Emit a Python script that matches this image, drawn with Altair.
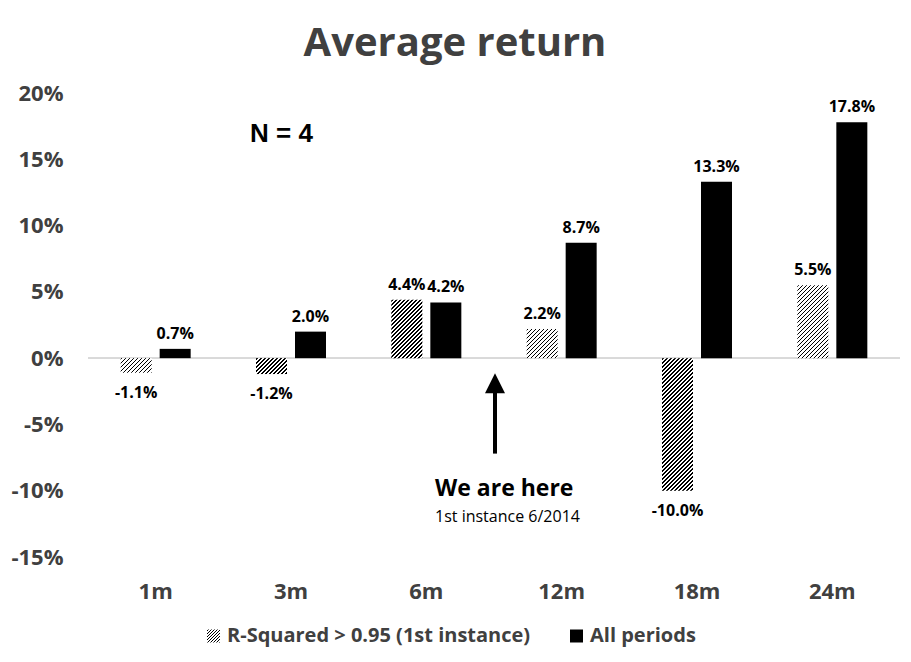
import altair as alt
import pandas as pd

# ---- data ----
periods = ["1m", "3m", "6m", "12m", "18m", "24m"]
rsq_values = [-1.1, -1.2, 4.4, 2.2, -10.0, 5.5]
all_values = [0.7, 2.0, 4.2, 8.7, 13.3, 17.8]
series = ["R-Squared > 0.95 (1st instance)", "All periods"]
y_ticks = [-15, -10, -5, 0, 5, 10, 15, 20]

# ---- layout constants ----
Y_MIN, Y_MAX = -15, 20
PLOT_W, PLOT_H = 812, 464
GROUP_W, BAR_W, GAP = 70, 31, 8
STEP = PLOT_W / len(periods)
PAD_INNER = 1 - GROUP_W / STEP
OFF_PAD = GAP / (BAR_W + GAP)
PX_PER_UNIT = PLOT_H / (Y_MAX - Y_MIN)
TXT = "#404040"
FONT = "Open Sans"

rows = []
for p, a, b in zip(periods, rsq_values, all_values):
    rows.append({"period": p, "series": series[0], "value": a, "label": f"{a:.1f}%"})
    rows.append({"period": p, "series": series[1], "value": b, "label": f"{b:.1f}%"})
df = pd.DataFrame(rows)


def hatch(w, h, period=4.0, dark=1.4):
    """Diagonal '/' hatch as a linear gradient in the bar's bounding box."""
    L = w + h
    a = L / (w * w + h * h)
    stops = []
    pos = 0.5
    while pos < L:
        s = pos / L
        e = min((pos + dark) / L, 1.0)
        stops += [{"offset": s, "color": "white"}, {"offset": s, "color": "black"},
                  {"offset": e, "color": "black"}, {"offset": e, "color": "white"}]
        pos += period
    return {"gradient": "linear", "x1": 0, "y1": 0, "x2": a * w, "y2": a * h,
            "stops": stops}


x_enc = alt.X("period:N", sort=periods,
              scale=alt.Scale(domain=periods, paddingInner=PAD_INNER, paddingOuter=PAD_INNER / 2),
              axis=alt.Axis(title=None, domain=False, ticks=False, labelAngle=0, labelPadding=24,
                            labelFont=FONT, labelFontSize=22, labelFontWeight="bold",
                            labelColor=TXT))
xo_enc = alt.XOffset("series:N", sort=series,
                     scale=alt.Scale(domain=series, paddingInner=OFF_PAD, paddingOuter=0))
y_enc = alt.Y("value:Q", scale=alt.Scale(domain=[Y_MIN, Y_MAX], nice=False),
              axis=alt.Axis(title=None, values=y_ticks, labelExpr="datum.value + '%'",
                            grid=False, domain=False, ticks=False, labelPadding=25,
                            labelFont=FONT, labelFontSize=22, labelFontWeight="bold",
                            labelColor=TXT))

base = alt.Chart(df)

zero_rule = base.mark_rule(color="#d9d9d9", strokeWidth=1.5).encode(y=alt.datum(0))

solid = base.transform_filter(alt.datum.series == series[1]).mark_bar(
    fill="black").encode(x=x_enc, xOffset=xo_enc, y=y_enc)

hatched_layers = []
for p, v in zip(periods, rsq_values):
    h = abs(v) * PX_PER_UNIT
    hatched_layers.append(
        base.transform_filter((alt.datum.series == series[0]) & (alt.datum.period == p))
        .mark_bar(fill=hatch(BAR_W, h)).encode(x=x_enc, xOffset=xo_enc, y=y_enc)
    )

lbl_style = dict(font=FONT, fontSize=16, fontWeight="bold", color="black", baseline="middle")
pos_labels = base.transform_filter(alt.datum.value >= 0).mark_text(dy=-15, **lbl_style).encode(
    x=x_enc, xOffset=xo_enc, y=y_enc, text="label:N")
neg_labels = base.transform_filter(alt.datum.value < 0).mark_text(dy=20, **lbl_style).encode(
    x=x_enc, xOffset=xo_enc, y=y_enc, text="label:N")

# ---- annotations ----
n_text = alt.Chart(pd.DataFrame({"t": ["N = 4"]})).mark_text(
    font="Liberation Sans", fontSize=26, fontWeight="bold", color="black",
    align="left", baseline="middle").encode(x=alt.value(162), y=alt.datum(16.9), text="t:N")

arrow_shaft = alt.Chart(pd.DataFrame({"a": [0]})).mark_rule(color="black", strokeWidth=4).encode(
    x=alt.value(407), y=alt.datum(-2.4), y2=alt.datum(-7.2))
arrow_head = alt.Chart(pd.DataFrame({"a": [0]})).mark_point(
    shape="M-1,1L0,-1L1,1Z", size=400, filled=True, fill="black", opacity=1, strokeWidth=0).encode(
    x=alt.value(407), y=alt.datum(-1.9))

here_text = alt.Chart(pd.DataFrame({"t": ["We are here"]})).mark_text(
    font=FONT, fontSize=23, fontWeight="bold", color="black", align="left",
    baseline="middle").encode(x=alt.value(347), y=alt.datum(-9.85), text="t:N")
inst_text = alt.Chart(pd.DataFrame({"t": ["1st instance 6/2014"]})).mark_text(
    font=FONT, fontSize=16, color="black", align="left",
    baseline="middle").encode(x=alt.value(347), y=alt.datum(-11.95), text="t:N")

# ---- legend (manual, to show the hatch) ----
leg_y = 543
leg_sw1 = alt.Chart(pd.DataFrame({"a": [0]})).mark_rect(fill=hatch(13, 13, period=3.0, dark=1.2)).encode(
    x=alt.value(119), x2=alt.value(132), y=alt.value(leg_y - 6.5), y2=alt.value(leg_y + 6.5))
leg_sw2 = alt.Chart(pd.DataFrame({"a": [0]})).mark_rect(fill="black").encode(
    x=alt.value(482), x2=alt.value(495), y=alt.value(leg_y - 6.5), y2=alt.value(leg_y + 6.5))
leg_txt1 = alt.Chart(pd.DataFrame({"t": [series[0]]})).mark_text(
    font=FONT, fontSize=20, fontWeight="bold", color=TXT, align="left", baseline="middle").encode(
    x=alt.value(139), y=alt.value(leg_y), text="t:N")
leg_txt2 = alt.Chart(pd.DataFrame({"t": [series[1]]})).mark_text(
    font=FONT, fontSize=20, fontWeight="bold", color=TXT, align="left", baseline="middle").encode(
    x=alt.value(502), y=alt.value(leg_y), text="t:N")

chart = alt.layer(
    zero_rule, solid, *hatched_layers, pos_labels, neg_labels,
    n_text, arrow_shaft, arrow_head, here_text, inst_text,
    leg_sw1, leg_sw2, leg_txt1, leg_txt2,
).properties(
    width=PLOT_W, height=PLOT_H,
    autosize="none",
    padding={"left": 80, "top": 85, "right": 3, "bottom": 90},
    title=alt.TitleParams("Average return", font=FONT, fontSize=40, fontWeight="bold",
                          color=TXT, anchor="middle", dx=-39, offset=18),
    background="white",
).configure_view(stroke=None)

chart.save("out.html", embed_options={"renderer": "svg", "actions": False})
